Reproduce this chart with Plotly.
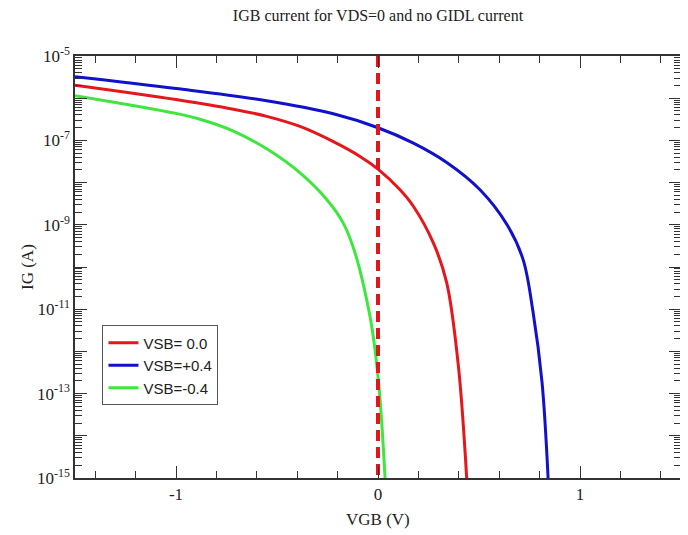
import plotly.graph_objects as go

# VGB (V) sample points and log10(IG) values
x_vsb0 = [-1.5, -1.0, -0.716, -0.551, -0.386, -0.221, -0.089, 0.0, 0.109, 0.175, 0.274, 0.34, 0.398, 0.439]
logig_vsb0 = [-5.69, -6.03, -6.26, -6.43, -6.67, -7.03, -7.38, -7.68, -8.17, -8.56, -9.43, -10.37, -12.35, -15.0]

x_vsbp4 = [-1.5, -1.0, -0.551, -0.221, 0.0, 0.173, 0.342, 0.505, 0.639, 0.718, 0.767, 0.812, 0.842]
logig_vsbp4 = [-5.49, -5.77, -6.06, -6.37, -6.70, -7.06, -7.53, -8.17, -9.00, -9.82, -11.05, -12.73, -15.0]

x_vsbm4 = [-1.5, -1.0, -0.881, -0.716, -0.551, -0.386, -0.254, -0.172, -0.114, -0.04, -0.015, 0.01, 0.035]
logig_vsbm4 = [-5.94, -6.36, -6.50, -6.78, -7.20, -7.77, -8.40, -8.96, -9.66, -11.16, -11.95, -13.13, -15.0]

vline_x = [0.0, 0.0]
vline_y = [1e-5, 1e-15]

series = [
    ("VSB= 0.0", x_vsb0, logig_vsb0, "#e5161c"),
    ("VSB=+0.4", x_vsbp4, logig_vsbp4, "#1111cc"),
    ("VSB=-0.4", x_vsbm4, logig_vsbm4, "#3ee63e"),
]

fig = go.Figure()
for name, xs, ls, col in series:
    fig.add_trace(go.Scatter(
        x=xs, y=[10 ** v for v in ls], mode="lines", name=name,
        line=dict(color=col, width=3, shape="spline", smoothing=1.0),
    ))

fig.add_trace(go.Scatter(
    x=vline_x, y=vline_y, mode="lines", showlegend=False,
    line=dict(color="#e0161c", width=4, dash="11px,6px"),
))

serif = "Liberation Serif"
decades = list(range(-15, -4))
ytickvals = [10.0 ** e for e in decades]
yticktext = [("10<sup>%d</sup>" % e) if (e % 2 != 0) else "" for e in decades]
yminor = [k * 10.0 ** e for e in decades[:-1] for k in range(2, 10)]

axis_common = dict(
    showline=True, linecolor="#333333", linewidth=1.5, mirror="allticks",
    ticks="inside", ticklen=12, tickwidth=1.3, tickcolor="#333333",
    showgrid=False, zeroline=False, automargin=False,
    tickfont=dict(family=serif, size=17, color="#222222"),
)

# the page body adds an 8px offset; the figure is sized to fill the rest of the window
W, H = 680, 527
L, R, T, B = 67, 7, 48, 57
PW, PH = W - L - R, H - T - B
fig.update_layout(
    width=W, height=H,
    margin=dict(l=L, r=R, t=T, b=B, autoexpand=False),
    paper_bgcolor="white", plot_bgcolor="white",
    title=dict(text="IGB current for VDS=0 and no GIDL current",
               x=(L + W - R) / 2 / W, xanchor="center", y=1 - 7.5 / H, yanchor="middle",
               font=dict(family=serif, size=16, color="#222222")),
    legend=dict(x=0.045, y=0.362, xanchor="left", yanchor="top",
                bgcolor="white", bordercolor="#555555", borderwidth=1.2,
                font=dict(family="Liberation Sans", size=15, color="#222222"),
                tracegroupgap=0, itemwidth=30),
    showlegend=True,
    annotations=[
        dict(text="VGB (V)", xref="paper", yref="paper", x=0.5, y=-41 / PH,
             xanchor="center", yanchor="middle", showarrow=False,
             font=dict(family=serif, size=17, color="#222222")),
        dict(text="IG (A)", xref="paper", yref="paper", x=-48 / PW, y=0.5, textangle=-90,
             xanchor="center", yanchor="middle", showarrow=False,
             font=dict(family=serif, size=17, color="#222222")),
    ],
)

fig.update_xaxes(
    range=[-1.5, 1.5], tickvals=[-1, 0, 1], ticktext=["-1", "0", "1"],
    minor=dict(tickmode="linear", tick0=0, dtick=0.2, ticks="inside", ticklen=7,
               tickwidth=1.2, tickcolor="#333333"),
    **axis_common,
)
fig.update_yaxes(
    type="log", range=[-15, -5], tickmode="array", tickvals=ytickvals, ticktext=yticktext,
    minor=dict(tickmode="array", tickvals=yminor, ticks="inside", ticklen=7,
               tickwidth=1.2, tickcolor="#333333"),
    **axis_common,
)

fig.write_html("out.html")
